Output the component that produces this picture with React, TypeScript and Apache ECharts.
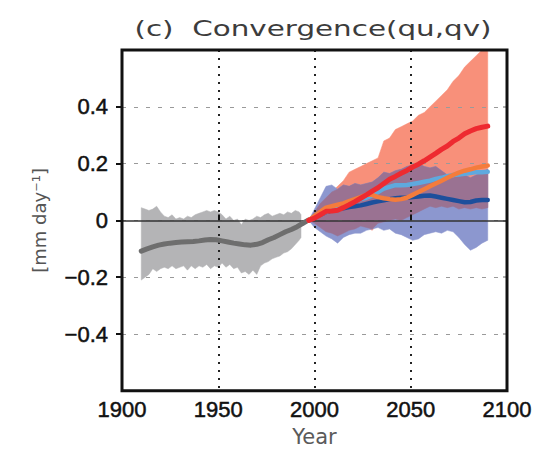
import React, { useEffect, useRef } from "react";
import * as echarts from "echarts";

// ---------- data ----------
const titleText = "(c)  Convergence(qu,qv)";
const xTicks = [1900, 1950, 2000, 2050, 2100];
const yTickValues = [-0.4, -0.2, 0, 0.2, 0.4];

// historical ensemble range (grey)
const histBandYears = [1910, 1912, 1914, 1916, 1918, 1920, 1922, 1924, 1926, 1928, 1930, 1932, 1934, 1936, 1938, 1940, 1942, 1944, 1946, 1948, 1950, 1952, 1954, 1956, 1958, 1960, 1962, 1964, 1966, 1968, 1970, 1972, 1974, 1976, 1978, 1980, 1982, 1984, 1986, 1988, 1990, 1992, 1993];
const histLow = [-0.21, -0.2, -0.19, -0.17, -0.18, -0.17, -0.165, -0.17, -0.16, -0.17, -0.165, -0.16, -0.175, -0.16, -0.17, -0.16, -0.165, -0.155, -0.17, -0.16, -0.165, -0.15, -0.165, -0.155, -0.17, -0.165, -0.185, -0.18, -0.19, -0.175, -0.19, -0.16, -0.15, -0.145, -0.135, -0.13, -0.125, -0.115, -0.11, -0.1, -0.085, -0.07, -0.06];
const histHigh = [0.045, 0.04, 0.035, 0.04, 0.05, 0.03, 0.015, 0.01, 0.02, 0.005, 0.01, 0.005, 0.015, 0.01, 0.02, 0.025, 0.03, 0.035, 0.03, 0.035, 0.03, 0.02, 0.005, 0.015, 0.0, 0.005, -0.015, 0.005, 0.0, 0.005, 0.015, 0.01, 0.02, 0.025, 0.015, 0.02, 0.025, 0.02, 0.03, 0.025, 0.035, 0.03, 0.02];

// historical mean (grey line)
const histMeanYears = [1910, 1913, 1916, 1919, 1922, 1925, 1928, 1931, 1934, 1937, 1940, 1943, 1946, 1949, 1952, 1955, 1958, 1961, 1964, 1967, 1970, 1973, 1976, 1979, 1982, 1985, 1988, 1991, 1994, 1997];
const histMean = [-0.108, -0.1, -0.093, -0.087, -0.083, -0.08, -0.078, -0.076, -0.075, -0.074, -0.072, -0.069, -0.067, -0.068, -0.072, -0.076, -0.08, -0.083, -0.086, -0.087, -0.084, -0.078, -0.068, -0.06, -0.05, -0.04, -0.032, -0.022, -0.01, 0.002];

// future years
const futYears = [1997, 2000, 2003, 2006, 2009, 2012, 2015, 2018, 2021, 2024, 2027, 2030, 2033, 2036, 2039, 2042, 2045, 2048, 2051, 2054, 2057, 2060, 2063, 2066, 2069, 2072, 2075, 2078, 2081, 2084, 2087, 2090];

// high-emission range (salmon)
const redLow = [0.0, -0.01, -0.025, -0.04, -0.045, -0.055, -0.045, -0.035, -0.03, -0.02, -0.025, -0.035, -0.01, -0.005, 0.0, 0.005, 0.0, 0.01, 0.02, 0.03, 0.04, 0.05, 0.045, 0.05, 0.045, 0.05, 0.04, 0.045, 0.04, 0.045, 0.04, 0.045];
const redHigh = [0.0, 0.03, 0.06, 0.08, 0.1, 0.12, 0.14, 0.17, 0.18, 0.19, 0.2, 0.21, 0.22, 0.28, 0.29, 0.32, 0.33, 0.34, 0.35, 0.37, 0.38, 0.4, 0.42, 0.44, 0.46, 0.49, 0.51, 0.54, 0.56, 0.58, 0.6, 0.6];

// low-emission range (blue)
const blueLow = [0.0, -0.025, -0.04, -0.055, -0.065, -0.08, -0.06, -0.05, -0.045, -0.045, -0.035, -0.03, -0.025, -0.035, -0.03, -0.045, -0.05, -0.06, -0.07, -0.065, -0.05, -0.045, -0.04, -0.045, -0.035, -0.04, -0.06, -0.085, -0.105, -0.095, -0.08, -0.07];
const blueHigh = [0.0, 0.04, 0.08, 0.12, 0.125, 0.11, 0.125, 0.12, 0.13, 0.125, 0.13, 0.135, 0.15, 0.17, 0.165, 0.175, 0.18, 0.19, 0.195, 0.2, 0.19, 0.185, 0.19, 0.175, 0.16, 0.15, 0.165, 0.16, 0.15, 0.16, 0.17, 0.18];

// scenario means
const meanRed = [0.0, 0.008, 0.02, 0.032, 0.033, 0.036, 0.045, 0.055, 0.066, 0.078, 0.09, 0.103, 0.115, 0.13, 0.145, 0.155, 0.166, 0.176, 0.188, 0.198, 0.21, 0.223, 0.236, 0.25, 0.262, 0.278, 0.29, 0.305, 0.315, 0.323, 0.328, 0.332];
const meanOrange = [0.0, 0.015, 0.03, 0.045, 0.05, 0.055, 0.06, 0.068, 0.075, 0.082, 0.09, 0.09, 0.082, 0.078, 0.075, 0.073, 0.075, 0.08, 0.09, 0.1, 0.11, 0.12, 0.13, 0.14, 0.15, 0.16, 0.168, 0.175, 0.18, 0.186, 0.19, 0.193];
const meanLightBlue = [0.0, 0.01, 0.022, 0.03, 0.038, 0.045, 0.052, 0.06, 0.068, 0.075, 0.08, 0.088, 0.1, 0.112, 0.118, 0.124, 0.124, 0.125, 0.128, 0.132, 0.136, 0.14, 0.146, 0.15, 0.156, 0.16, 0.162, 0.164, 0.167, 0.17, 0.17, 0.171];
const meanDarkBlue = [0.0, 0.01, 0.02, 0.03, 0.035, 0.04, 0.043, 0.047, 0.05, 0.053, 0.058, 0.063, 0.067, 0.071, 0.075, 0.078, 0.08, 0.08, 0.082, 0.084, 0.087, 0.088, 0.084, 0.08, 0.076, 0.072, 0.068, 0.064, 0.065, 0.07, 0.072, 0.072];

// ---------- helpers ----------
function bandSeries(id: string, years: number[], low: number[], high: number[], color: string, z: number) {
  return {
    type: "custom",
    name: id,
    silent: true,
    clip: true,
    z,
    encode: { x: 0, y: [1, 2] },
    data: years.map((y, i) => [y, low[i], high[i]]),
    renderItem: (params: any, api: any) => {
      if (params.dataIndex !== 0) return null;
      const pts: number[][] = [];
      for (let i = 0; i < years.length; i++) pts.push(api.coord([years[i], high[i]]));
      for (let i = years.length - 1; i >= 0; i--) pts.push(api.coord([years[i], low[i]]));
      return {
        type: "polygon",
        shape: { points: pts },
        style: { fill: color, stroke: color, lineWidth: 0.5 },
      };
    },
  };
}

function lineSeries(name: string, years: number[], vals: number[], color: string, width: number, z: number) {
  return {
    type: "line",
    name,
    data: years.map((y, i) => [y, vals[i]]),
    symbol: "none",
    silent: true,
    lineStyle: { color, width, cap: "round", join: "round" },
    z,
  };
}

const overlapLow = futYears.map((_, i) => Math.max(redLow[i], blueLow[i]));
const overlapHigh = futYears.map((_, i) => Math.max(overlapLow[i], Math.min(redHigh[i], blueHigh[i])));

const fmtY = (v: number) => {
  const r = Math.round(v * 10) / 10;
  if (r === 0) return "0";
  return (r < 0 ? "\u2212" : "") + Math.abs(r).toFixed(1);
};

const tickLabelStyle = {
  fontFamily: "Liberation Sans",
  fontSize: 22,
  color: "#111",
  textBorderColor: "#111",
  textBorderWidth: 0.5,
};

export default function App() {
  const ref = useRef<HTMLDivElement>(null);
  useEffect(() => {
    if (!ref.current) return;
    const chart = echarts.init(ref.current, undefined, { renderer: "svg" });
    const option: any = {
      animation: false,
      backgroundColor: "#ffffff",
      grid: {
        left: 122,
        right: 32,
        top: 50,
        bottom: 59,
        show: true,
        borderColor: "#111",
        borderWidth: 3,
        backgroundColor: "transparent",
        z: 6,
      },
      graphic: [
        {
          type: "text",
          x: 313,
          y: 29,
          scaleX: 1.4,
          z: 10,
          style: {
            text: titleText,
            fontSize: 21,
            fontFamily: "DejaVu Sans",
            fill: "#3c3c3c",
            align: "center",
            verticalAlign: "middle",
          },
        },
      ],
      xAxis: [
        {
          type: "value",
          min: 1900,
          max: 2100,
          interval: 50,
          z: 3,
          name: "Year",
          nameLocation: "middle",
          nameGap: 34,
          nameTextStyle: { fontFamily: "DejaVu Sans", fontSize: 21, color: "#5a5a5a" },
          axisLine: { show: false },
          axisTick: { show: true, inside: true, length: 6, lineStyle: { color: "#111", width: 2 } },
          axisLabel: {
            margin: 8,
            ...tickLabelStyle,
            customValues: xTicks,
            formatter: (v: number) => String(v),
          },
          splitLine: { show: true, lineStyle: { color: "#222", width: 2, type: [2, 6] } },
        },
        {
          type: "value",
          position: "top",
          min: 1900,
          max: 2100,
          interval: 50,
          axisLine: { show: false },
          axisTick: { show: false },
          axisLabel: { show: false },
          splitLine: { show: false },
        },
      ],
      yAxis: [
        {
          type: "value",
          min: -0.6,
          max: 0.6,
          interval: 0.2,
          z: 3,
          name: "[mm day\u207B\u00B9]",
          nameLocation: "middle",
          nameGap: 74,
          nameRotate: 90,
          nameTextStyle: { fontFamily: "DejaVu Sans", fontSize: 18, color: "#555" },
          axisLine: { show: false },
          axisTick: {
            show: true,
            inside: false,
            length: 6,
            lineStyle: { color: "#111", width: 2 },
            customValues: yTickValues,
          },
          axisLabel: {
            margin: 14,
            ...tickLabelStyle,
            formatter: fmtY,
            customValues: yTickValues,
          },
          splitLine: { show: true, lineStyle: { color: "#9a9a9a", width: 1.2, type: [4, 8] } },
        },
        {
          type: "value",
          position: "right",
          min: -0.6,
          max: 0.6,
          interval: 0.2,
          z: 3,
          axisLine: { show: false },
          axisTick: {
            show: true,
            inside: true,
            length: 4,
            lineStyle: { color: "#999", width: 1.5 },
            customValues: yTickValues,
          },
          axisLabel: { show: false },
          splitLine: { show: false },
        },
      ],
      series: [
        bandSeries("hist", histBandYears, histLow, histHigh, "#b4b4b6", 1),
        bandSeries("red", futYears, redLow, redHigh, "#f8907a", 1),
        bandSeries("blue", futYears, blueLow, blueHigh, "#8c97cf", 1),
        bandSeries("overlap", futYears, overlapLow, overlapHigh, "#9a7292", 1),
        {
          type: "line",
          name: "zero",
          data: [],
          silent: true,
          z: 4,
          markLine: {
            silent: true,
            symbol: ["none", "none"],
            label: { show: false },
            lineStyle: { color: "#333", width: 1.5, type: "solid" },
            data: [{ yAxis: 0 }],
          },
        },
        lineSeries("hist-mean", histMeanYears, histMean, "#6e6e6e", 5, 5),
        lineSeries("rcp26", futYears, meanDarkBlue, "#1d4f9c", 4.5, 5),
        lineSeries("rcp45", futYears, meanLightBlue, "#5fa9de", 4.5, 5),
        lineSeries("rcp60", futYears, meanOrange, "#f47c3c", 4.5, 5),
        lineSeries("rcp85", futYears, meanRed, "#ee2a30", 5, 5),
      ],
    };
    chart.setOption(option);
    return () => chart.dispose();
  }, []);
  return (
    <div
      ref={ref}
      style={{ position: "absolute", left: 0, top: 0, width: 539, height: 452 }}
    />
  );
}
